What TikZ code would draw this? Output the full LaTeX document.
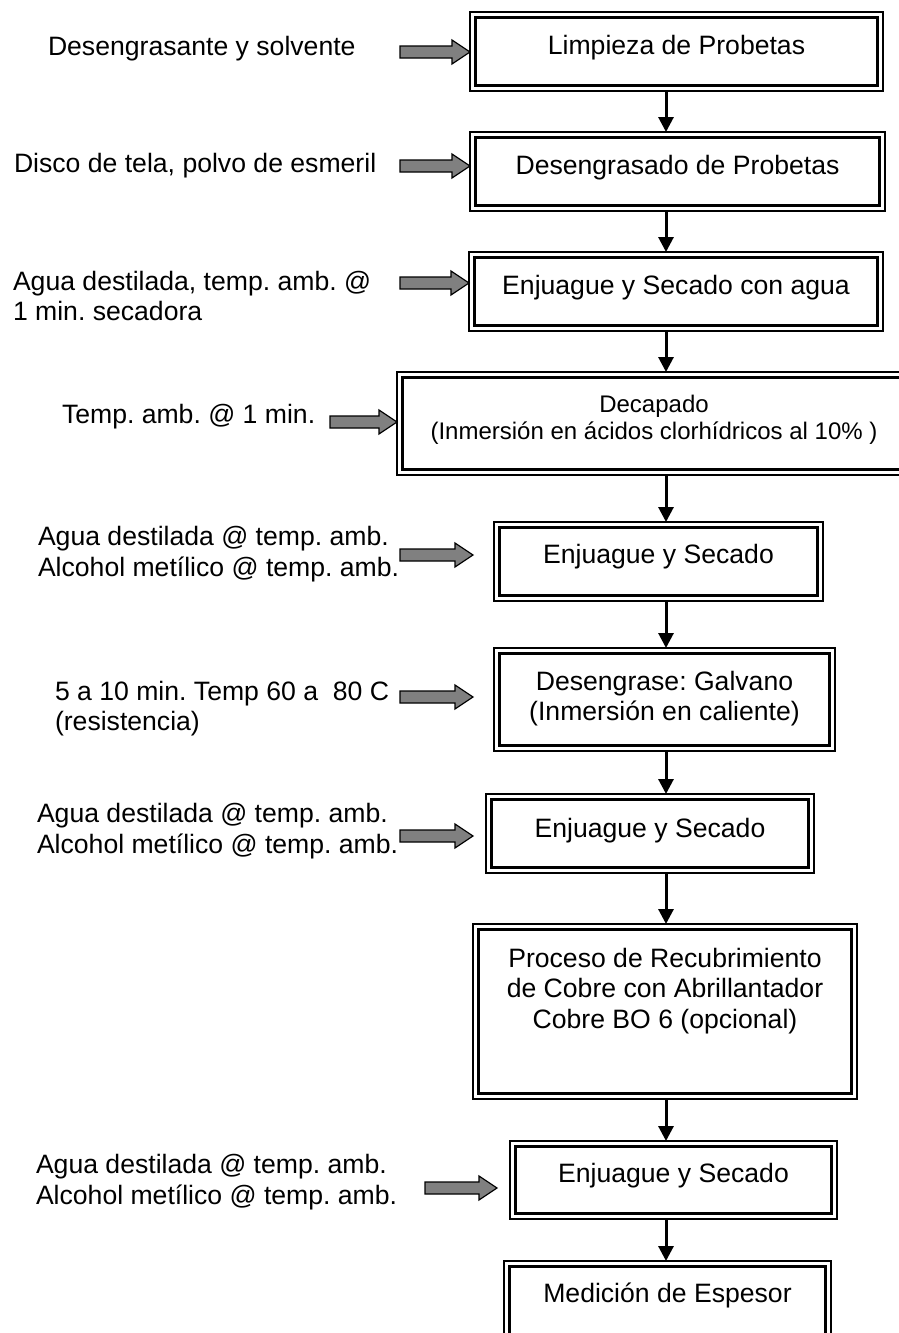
\documentclass[tikz,border=0pt]{standalone}
\usepackage{fontspec}
\setmainfont{Liberation Sans}
\usetikzlibrary{arrows.meta,calc}
\definecolor{arrowgray}{RGB}{128,128,128}
\tikzset{
  box/.style={draw=black, line width=1.5pt, fill=white, inner sep=0pt, outer sep=0pt, anchor=north west},
  inframe/.style={draw=black, line width=2.8pt},
  txt/.style={font=\fontsize{26.6}{30.5}\selectfont, inner sep=0pt, outer sep=0pt, anchor=base},
  ltxt/.style={txt, anchor=base west},
  stxt/.style={txt, font=\fontsize{24}{27}\selectfont},
  flow/.style={line width=3pt, -{Triangle[width=15pt,length=15pt]}},
  feed/.style={fill=arrowgray, draw=black, line width=1.2pt, line join=miter},
}
% process box with a thin outer and a heavy inner frame
\newcommand\procbox[5]{%
  \node[box, minimum width={#4pt-#2pt}, minimum height={#5pt-#3pt}] (#1) at (#2,#3) {};
  \draw[inframe] ([shift={(5.6,5.8)}]#1.north west) rectangle ([shift={(-5.6,-5.8)}]#1.south east);}
% grey block arrow from a tail point to a tip point (same height)
\newcommand\feedarrow[2]{%
  \path[feed] let \p1=(#1), \p2=(#2) in
    (\x1,\y1+6pt) -- (\x2-18pt,\y1+6pt) -- (\x2-18pt,\y1+12pt) -- (\x2,\y1)
    -- (\x2-18pt,\y1-12pt) -- (\x2-18pt,\y1-6pt) -- (\x1,\y1-6pt) -- cycle;}
\begin{document}
\frenchspacing
\begin{tikzpicture}[x=1pt,y=-1pt]
\useasboundingbox (0,0) rectangle (899,1333);
\fill[white] (0,0) rectangle (899,1333);
\clip (0,0) rectangle (899,1333);

% process column
\coordinate (colx) at (666,0);
\procbox{b1}{470}{12}{883}{91}
\procbox{b2}{470}{132}{885}{211}
\procbox{b3}{469}{252}{883}{331}
\procbox{b4}{397}{372}{911}{475}
\procbox{b5}{494}{522}{823}{601}
\procbox{b6}{494}{648}{835}{751}
\procbox{b7}{486}{794}{814}{873}
\procbox{b8}{473}{924}{857}{1099}
\procbox{b9}{510}{1141}{837}{1219}
\procbox{b10}{504}{1261}{831}{1340}

\node[txt] (b1t) at (676.5,54) {Limpieza de Probetas};
\node[txt] (b2t) at (677.5,174) {Desengrasado de Probetas};
\node[txt] (b3t) at (676,294) {Enjuague y Secado con agua};
\node[stxt] (b4ta) at (654,412) {Decapado};
\node[stxt] (b4tb) at (654,439) {(Inmersión en ácidos clorhídricos al 10\% )};
\node[txt] (b5t) at (658.5,563) {Enjuague y Secado};
\node[txt] (b6ta) at (664.5,690) {Desengrase: Galvano};
\node[txt] (b6tb) at (664.5,720) {(Inmersión en caliente)};
\node[txt] (b7t) at (650,837) {Enjuague y Secado};
\node[txt] (b8ta) at (665,967) {Proceso de Recubrimiento};
\node[txt] (b8tb) at (665,997.5) {de Cobre con Abrillantador};
\node[txt] (b8tc) at (665,1028) {Cobre BO 6 (opcional)};
\node[txt] (b9t) at (673.5,1182) {Enjuague y Secado};
\node[txt] (b10t) at (667.5,1302) {Medición de Espesor};

% flow between steps
\foreach \a/\b in {b1/b2,b2/b3,b3/b4,b4/b5,b5/b6,b6/b7,b7/b8,b8/b9,b9/b10}
  \draw[flow] (\a.south -| colx) -- (\b.north -| colx);

% inputs on the left
\node[ltxt] (i1) at (48,55) {Desengrasante y solvente};
\node[ltxt] (i2) at (14,172) {Disco de tela, polvo de esmeril};
\node[ltxt] (i3a) at (13,290) {Agua destilada, temp. amb. @};
\node[ltxt] (i3b) at (13,320) {1 min. secadora};
\node[ltxt] (i4) at (62,423) {Temp. amb. @ 1 min.};
\node[ltxt] (i5a) at (38,545) {Agua destilada @ temp. amb.};
\node[ltxt] (i5b) at (38,576) {Alcohol metílico @ temp. amb.};
\node[ltxt] (i6a) at (55,700) {5 a 10 min. Temp 60 a\ \ 80 C};
\node[ltxt] (i6b) at (55,730) {(resistencia)};
\node[ltxt] (i7a) at (37,822) {Agua destilada @ temp. amb.};
\node[ltxt] (i7b) at (37,853) {Alcohol metílico @ temp. amb.};
\node[ltxt] (i8a) at (36,1173) {Agua destilada @ temp. amb.};
\node[ltxt] (i8b) at (36,1204) {Alcohol metílico @ temp. amb.};

% grey feed arrows
\coordinate (g1) at (400,52);
\coordinate (g2) at (400,166);
\coordinate (g3) at (400,283);
\coordinate (g4) at (330,422);
\coordinate (g5) at (400,555);
\coordinate (g5e) at (473,555);
\coordinate (g6) at (400,697);
\coordinate (g6e) at (473,697);
\coordinate (g7) at (400,836);
\coordinate (g7e) at (473,836);
\coordinate (g8) at (425,1188);
\coordinate (g8e) at (497,1188);
\feedarrow{g1}{g1 -| b1.west}
\feedarrow{g2}{g2 -| b2.west}
\feedarrow{g3}{g3 -| b3.west}
\feedarrow{g4}{g4 -| b4.west}
\feedarrow{g5}{g5e}
\feedarrow{g6}{g6e}
\feedarrow{g7}{g7e}
\feedarrow{g8}{g8e}
\end{tikzpicture}
\end{document}
